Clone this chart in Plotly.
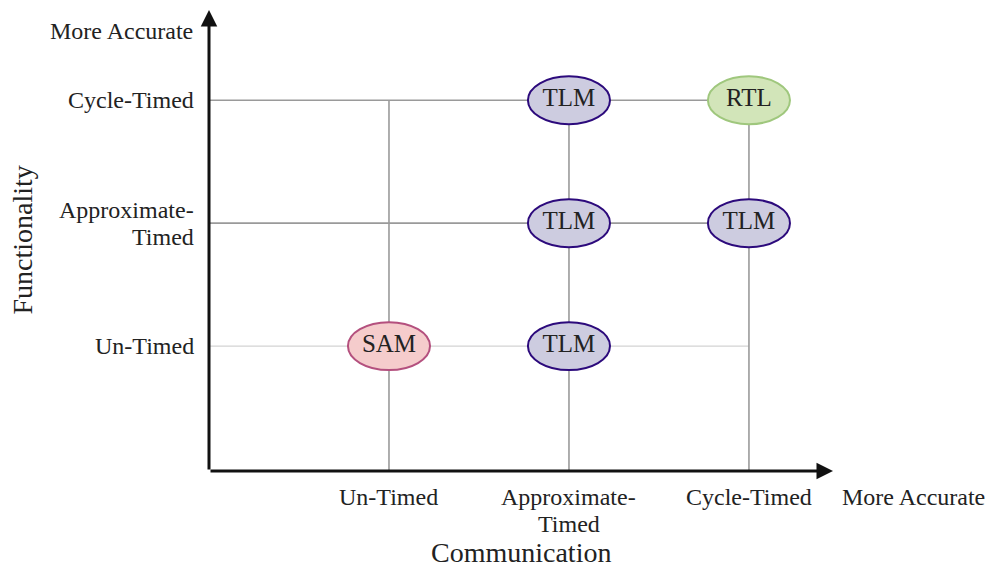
import plotly.graph_objects as go

# ---- data ----
comm_levels = [["Un-Timed"], ["Approximate-", "Timed"], ["Cycle-Timed"]]
func_levels = [["Un-Timed"], ["Approximate-", "Timed"], ["Cycle-Timed"]]
node_comm = [1, 2, 2, 2, 3, 3]
node_func = [1, 1, 2, 3, 2, 3]
node_label = ["SAM", "TLM", "TLM", "TLM", "TLM", "RTL"]
node_kind = ["sam", "tlm", "tlm", "tlm", "tlm", "rtl"]
# grid segments: (x0, y0, x1, y1) in level units
h_lines = [(0, 3, 2.95, 3), (0, 2, 3, 2), (0, 1, 3, 1)]
v_lines = [(1, 0, 1, 3), (2, 0, 2, 3), (3, 0, 3, 3)]

styles = {
    "sam": dict(fill="#f5cccc", line="#b4507e"),
    "tlm": dict(fill="#cdcce0", line="#2c0a7c"),
    "rtl": dict(fill="#d2e5b9", line="#9fc77d"),
}

FONT = "Times New Roman, Liberation Serif, Tinos, serif"
XMIN, XMAX = 0, 3.467
YMIN, YMAX = -0.016, 3.734
LINE_H = 27

fig = go.Figure()

shapes = []
for i, (x0, y0, x1, y1) in enumerate(h_lines):
    shapes.append(dict(type="line", x0=x0, y0=y0, x1=x1, y1=y1, xref="x", yref="y",
                       line=dict(color="#9a9a9a" if y0 > 1 else "#c8c8c8", width=1.6 if y0 > 1 else 1),
                       layer="below"))
for (x0, y0, x1, y1) in v_lines:
    shapes.append(dict(type="line", x0=x0, y0=YMIN, x1=x1, y1=y1, xref="x", yref="y",
                       line=dict(color="#9a9a9a", width=1.6), layer="below"))

rx, ry = 0.228, 0.195
for cx, cy, k in zip(node_comm, node_func, node_kind):
    s = styles[k]
    shapes.append(dict(type="circle", x0=cx - rx, x1=cx + rx, y0=cy - ry, y1=cy + ry,
                       xref="x", yref="y", fillcolor=s["fill"],
                       line=dict(color=s["line"], width=2), layer="below"))

fig.add_trace(go.Scatter(x=node_comm, y=node_func, mode="text", text=node_label,
                         textfont=dict(family=FONT, size=25, color="#222222"),
                         hoverinfo="skip", showlegend=False))

ann = []
# axes arrows
ann.append(dict(x=XMAX, y=YMIN, ax=XMIN, ay=YMIN, xref="x", yref="y", axref="x", ayref="y",
                showarrow=True, arrowhead=2, arrowsize=1.1, arrowwidth=3, arrowcolor="#111111", text=""))
ann.append(dict(x=XMIN, y=YMAX, ax=XMIN, ay=YMIN, xref="x", yref="y", axref="x", ayref="y",
                showarrow=True, arrowhead=2, arrowsize=1.1, arrowwidth=3, arrowcolor="#111111", text=""))
TF = dict(family=FONT, size=24, color="#222222")
# tick labels
for i, lines in enumerate(comm_levels):
    for j, t in enumerate(lines):
        ann.append(dict(x=i + 1, y=YMIN, xref="x", yref="y", text=t, showarrow=False,
                        yanchor="middle", yshift=-26 - j * LINE_H, font=TF))
for i, lines in enumerate(func_levels):
    n = len(lines)
    for j, t in enumerate(lines):
        off = ((n - 1) / 2 - j) * LINE_H
        ann.append(dict(x=XMIN, y=i + 1, xref="x", yref="y", text=t, showarrow=False,
                        xanchor="right", yanchor="middle", xshift=-13, yshift=off, font=TF))
ann.append(dict(x=XMAX, y=YMIN, xref="x", yref="y", text="More Accurate", showarrow=False,
                xanchor="left", yanchor="middle", xshift=7, yshift=-26, font=TF))
ann.append(dict(x=XMIN, y=YMAX, xref="x", yref="y", text="More Accurate", showarrow=False,
                xanchor="right", yanchor="middle", xshift=-14, yshift=-21, font=TF))
ann.append(dict(x=0.5, y=0, xref="paper", yref="paper", text="Communication", showarrow=False,
                xanchor="center", yanchor="middle", xshift=0, yshift=-81,
                font=dict(family=FONT, size=28, color="#222222")))
ann.append(dict(x=0, y=0.5, xref="paper", yref="paper", text="Functionality", showarrow=False,
                textangle=-90, xanchor="center", yanchor="middle", xshift=-187, yshift=0,
                font=dict(family=FONT, size=28, color="#222222")))

fig.update_layout(
    width=993, height=567, margin=dict(l=201, r=168, t=2, b=104),
    paper_bgcolor="white", plot_bgcolor="white",
    xaxis=dict(range=[XMIN, XMAX], visible=False, fixedrange=True),
    yaxis=dict(range=[YMIN, YMAX], visible=False, fixedrange=True),
    shapes=shapes, annotations=ann, showlegend=False,
)
fig.write_html("out.html")
